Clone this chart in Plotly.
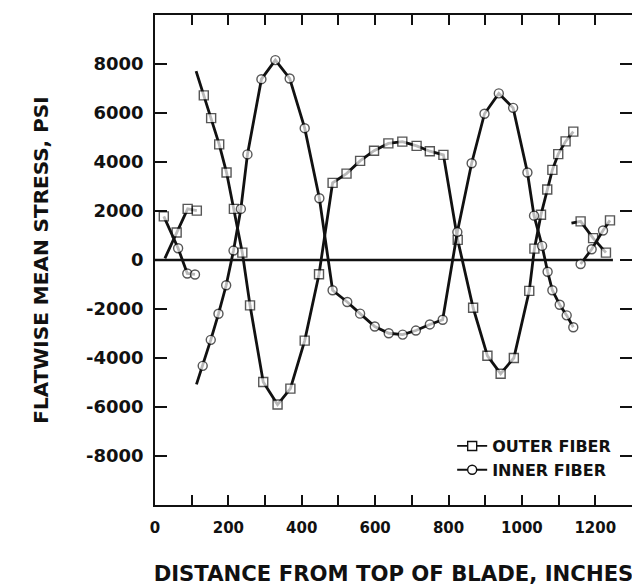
import plotly.graph_objects as go

# ---- data ----
# Outer fiber: segments separated by None
outer_x = [27, 59, 89, 114, None,
           112, 133, 153, 175, 195, 215, 238, 259, 295, 334, 369, 408, 447, 484, 522, 559,
           597, 636, 674, 713, 749, 786, 825, 867, 906, 942, 978, 1020, 1034, 1052, 1069,
           1083, 1099, 1119, 1140, None,
           1135, 1160, 1194, 1229]
outer_y = [70, 1125, 2085, 2016, None,
           7710, 6720, 5790, 4720, 3570, 2085, 300, -1850, -4980, -5900, -5250, -3290, -580, 3150, 3525, 4045,
           4460, 4760, 4830, 4660, 4440, 4290, 820, -1950, -3910, -4640, -4000, -1260, 465, 1850, 2880,
           3680, 4320, 4840, 5240, None,
           1510, 1576, 893, 300]

# Inner fiber
inner_x = [24, 63, 88, 109, None,
           113, 130, 152, 173, 194, 214, 234, 252, 290, 328, 367, 408, 448, 484, 524, 559,
           599, 637, 675, 711, 749, 784, 824, 863, 898, 937, 976, 1015, 1033, 1055, 1070,
           1083, 1103, 1122, 1140, None,
           1160, 1190, 1221, 1240]
inner_y = [1780, 480, -550, -590, None,
           -5075, -4320, -3260, -2195, -1030, 385, 2085, 4310, 7380, 8160, 7410, 5380, 2520, -1235, -1715, -2190,
           -2715, -2990, -3045, -2880, -2630, -2440, 1140, 3950, 5970, 6800, 6210, 3570, 1810, 575, -480,
           -1235, -1825, -2260, -2745, None,
           -165, 440, 1205, 1617]

series_names = ["OUTER FIBER", "INNER FIBER"]

x_tick_vals = list(range(0, 1301, 100))
x_tick_text = ["0", "", "200", "", "400", "", "600", "", "800", "", "1000", "", "1200", ""]
y_tick_vals = [-8000, -6000, -4000, -2000, 0, 2000, 4000, 6000, 8000]
y_tick_text = ["-8000", "-6000", "-4000", "-2000", "0", "2000", "4000", "6000", "8000"]

x_title = "DISTANCE FROM TOP OF BLADE, INCHES"
y_title = "FLATWISE MEAN STRESS, PSI"
zero_line_end = 1248

# ---- styling ----
FONT = "DejaVu Sans"
BLACK = "#111111"
MS = 9
LW = 2.8


def segment_starts(xs):
    starts = [0]
    for i, v in enumerate(xs):
        if v is None and i + 1 < len(xs):
            starts.append(i + 1)
    return starts


# outer: every segment begins with an unmarked lead-in point
o_starts = set(segment_starts(outer_x))
outer_sizes = [0 if i in o_starts else MS for i in range(len(outer_x))]
outer_symbols = ["square"] * len(outer_x)

# inner: second segment begins unmarked; the end points of the side clusters are squares
i_starts = segment_starts(inner_x)
inner_sizes = [MS] * len(inner_x)
inner_sizes[i_starts[1]] = 0
inner_symbols = ["circle"] * len(inner_x)
inner_symbols[0] = "square"
inner_symbols[-1] = "square"

fig = go.Figure()

fig.add_shape(type="line", xref="x", yref="y", x0=0, x1=zero_line_end, y0=0, y1=0,
              line=dict(color=BLACK, width=2.6), layer="below")

fig.add_trace(go.Scatter(
    x=outer_x, y=outer_y, mode="lines+markers", showlegend=False,
    line=dict(color=BLACK, width=LW),
    marker=dict(symbol=outer_symbols, size=outer_sizes, color="white",
                line=dict(color=BLACK, width=1.4)),
    connectgaps=False, name=series_names[0]))

fig.add_trace(go.Scatter(
    x=inner_x, y=inner_y, mode="lines+markers", showlegend=False,
    line=dict(color=BLACK, width=LW),
    marker=dict(symbol=inner_symbols, size=inner_sizes, color="white",
                line=dict(color=BLACK, width=1.4)),
    connectgaps=False, name=series_names[1]))

# legend entries
for nm, sym in zip(series_names, ["square", "circle"]):
    fig.add_trace(go.Scatter(
        x=[None], y=[None], mode="lines+markers", name=nm,
        line=dict(color=BLACK, width=1.8),
        marker=dict(symbol=sym, size=MS, color="white", line=dict(color=BLACK, width=1.4))))

axis_common = dict(
    showline=True, linecolor=BLACK, linewidth=1.6, mirror="ticks",
    ticks="inside", tickcolor=BLACK, tickwidth=1.6,
    showgrid=False, zeroline=False, automargin=False,
)

# the page body adds an 8px margin; size the figure so it fits the 640x586 window
fig.update_layout(
    width=632, height=578,
    margin=dict(l=147, r=8, t=7, b=81),
    paper_bgcolor="white", plot_bgcolor="white",
    xaxis=dict(range=[0, 1300], tickmode="array", tickvals=x_tick_vals, ticktext=x_tick_text,
               ticklen=10, ticklabelstandoff=8,
               tickfont=dict(family=FONT, size=15, color=BLACK, weight="bold"),
               title=dict(text=x_title, standoff=33,
                          font=dict(family=FONT, size=21.2, color=BLACK, weight="bold")),
               **axis_common),
    yaxis=dict(range=[-10000, 10000], tickmode="array", tickvals=y_tick_vals, ticktext=y_tick_text,
               ticklen=12, ticklabelstandoff=6,
               tickfont=dict(family=FONT, size=18, color=BLACK, weight="bold"),
               title=dict(text=y_title, standoff=32,
                          font=dict(family=FONT, size=20, color=BLACK, weight="bold")),
               **axis_common),
    legend=dict(x=0.623, y=0.155, xanchor="left", yanchor="top",
                bgcolor="rgba(0,0,0,0)", borderwidth=0,
                font=dict(family=FONT, size=16, color=BLACK, weight="bold"),
                itemwidth=30, tracegroupgap=0),
    showlegend=True,
)

fig.write_html("out.html")
